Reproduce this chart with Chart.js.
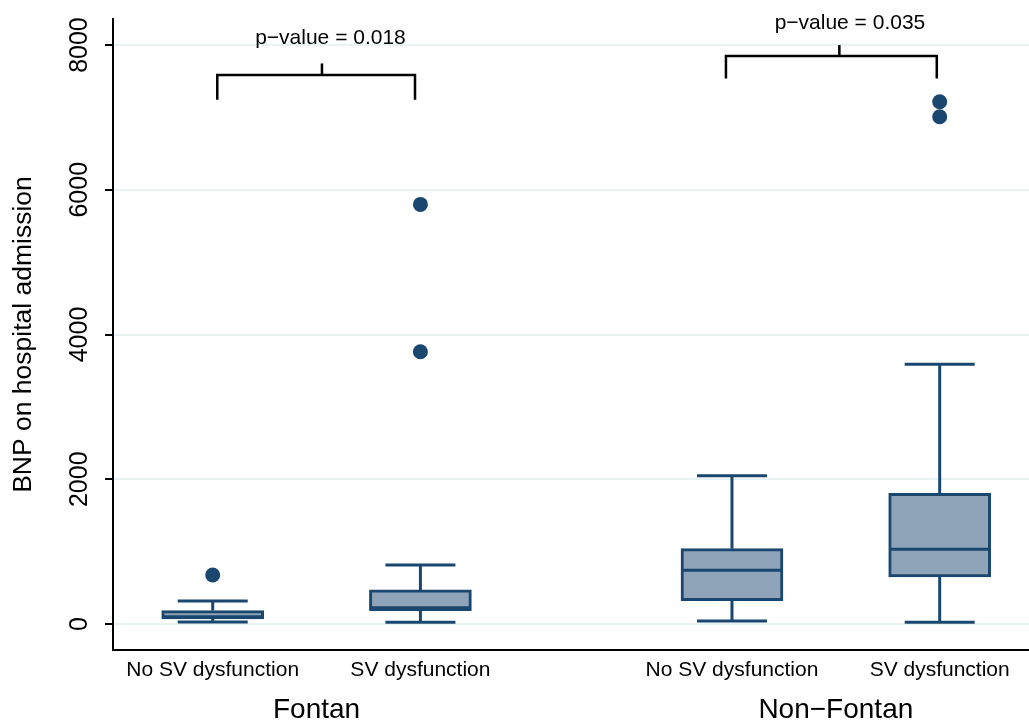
<!DOCTYPE html>
<html>
<head>
<meta charset="utf-8">
<script src="https://cdn.jsdelivr.net/npm/chart.js@4.4.1/dist/chart.umd.min.js"></script>
<style>
  html, body { margin: 0; padding: 0; background: #ffffff; }
  #wrap { position: relative; width: 1029px; height: 722px; }
</style>
</head>
<body>
<div id="wrap"><canvas id="c"></canvas></div>
<script>
// ---- data ----
const categories = ['No SV dysfunction', 'SV dysfunction', 'No SV dysfunction', 'SV dysfunction'];
const positions = [1, 2, 3.5, 4.5];
const groups = ['Fontan', 'Non\u2212Fontan'];
const groupPositions = [[1, 2], [3.5, 4.5]];
const whiskerLow = [28, 23, 41, 23];
const q1 = [70, 184, 322, 649];
const median = [100, 225, 742, 1032];
const q3 = [185, 470, 1040, 1806];
const whiskerHigh = [318, 815, 2049, 3588];
const outliers = [[677], [3762, 5798], [], [7009, 7216]];
const yTicks = [0, 2000, 4000, 6000, 8000];
const pLabels = ['p\u2212value = 0.018', 'p\u2212value = 0.035'];
// bracket geometry in data units
const bracketLeftX = [1.022, 3.471];
const bracketRightX = [1.974, 4.486];
const bracketTickX = [1.526, 4.017];
const bracketLegY = [7245, 7539];
const bracketBarY = [7585, 7847];
const bracketTopY = [7746, 8000];
const pLabelX = [1.567, 4.068];
const pLabelY = [8096, 8303];

// ---- styles ----
const NAVY = '#1a476f';
const FILL = '#8fa4b8';
const FONT = '"Liberation Sans", Arial, Helvetica, sans-serif';

const boxData = positions.map((p, i) => ({ x: p, y: [q1[i], q3[i]] }));
const outlierData = [];
positions.forEach((p, i) => outliers[i].forEach(v => outlierData.push({ x: p, y: v })));

const bracketSets = [];
for (let k = 0; k < 2; k++) {
  bracketSets.push({
    type: 'line',
    data: [
      { x: bracketLeftX[k], y: bracketLegY[k] },
      { x: bracketLeftX[k], y: bracketBarY[k] },
      { x: bracketRightX[k], y: bracketBarY[k] },
      { x: bracketRightX[k], y: bracketLegY[k] }
    ],
    borderColor: '#000', borderWidth: 2.5, pointRadius: 0, tension: 0, fill: false,
    borderCapStyle: 'butt', borderJoinStyle: 'miter'
  });
  bracketSets.push({
    type: 'line',
    data: [
      { x: bracketTickX[k], y: bracketBarY[k] },
      { x: bracketTickX[k], y: bracketTopY[k] }
    ],
    borderColor: '#000', borderWidth: 2.5, pointRadius: 0, tension: 0, fill: false,
    borderCapStyle: 'butt'
  });
}

const boxPlugin = {
  id: 'boxExtras',
  afterDatasetsDraw(chart) {
    const ctx = chart.ctx;
    const xs = chart.scales.x, ys = chart.scales.y;
    const capHalf = 35, boxHalf = 50;
    ctx.save();
    ctx.strokeStyle = NAVY;
    ctx.lineWidth = 3;
    ctx.lineCap = 'butt';
    positions.forEach((p, i) => {
      const cx = xs.getPixelForValue(p);
      const yLo = ys.getPixelForValue(whiskerLow[i]);
      const yQ1 = ys.getPixelForValue(q1[i]);
      const yMed = ys.getPixelForValue(median[i]);
      const yQ3 = ys.getPixelForValue(q3[i]);
      const yHi = ys.getPixelForValue(whiskerHigh[i]);
      ctx.beginPath();
      ctx.moveTo(cx, yQ3); ctx.lineTo(cx, yHi);
      ctx.moveTo(cx - capHalf, yHi); ctx.lineTo(cx + capHalf, yHi);
      ctx.moveTo(cx, yQ1); ctx.lineTo(cx, yLo);
      ctx.moveTo(cx - capHalf, yLo); ctx.lineTo(cx + capHalf, yLo);
      ctx.stroke();
      ctx.beginPath();
      ctx.moveTo(cx - boxHalf, yMed); ctx.lineTo(cx + boxHalf, yMed);
      ctx.stroke();
    });
    ctx.restore();
  },
  afterDraw(chart) {
    const ctx = chart.ctx;
    const xs = chart.scales.x, ys = chart.scales.y;
    ctx.save();
    ctx.fillStyle = '#000';
    // y tick labels (rotated)
    ctx.font = '25px ' + FONT;
    ctx.textAlign = 'center';
    ctx.textBaseline = 'middle';
    yTicks.forEach(v => {
      const y = ys.getPixelForValue(v);
      ctx.save();
      ctx.translate(80, y);
      ctx.rotate(-Math.PI / 2);
      ctx.fillText(String(v), 0, 0);
      ctx.restore();
    });
    // category labels
    ctx.font = '21px ' + FONT;
    categories.forEach((c, i) => {
      ctx.fillText(c, xs.getPixelForValue(positions[i]), 670);
    });
    // group labels
    ctx.font = '28px ' + FONT;
    groups.forEach((g, k) => {
      const cx = (xs.getPixelForValue(groupPositions[k][0]) + xs.getPixelForValue(groupPositions[k][1])) / 2;
      ctx.fillText(g, cx, 710);
    });
    // p-values
    ctx.font = '21px ' + FONT;
    pLabels.forEach((t, k) => {
      ctx.fillText(t, xs.getPixelForValue(pLabelX[k]), ys.getPixelForValue(pLabelY[k]));
    });
    ctx.restore();
  }
};

new Chart(document.getElementById('c'), {
  type: 'bar',
  data: {
    datasets: [
      {
        type: 'bar',
        data: boxData,
        backgroundColor: FILL,
        borderColor: NAVY,
        borderWidth: 3,
        borderSkipped: false,
        barThickness: 102,
        order: 2
      },
      {
        type: 'scatter',
        data: outlierData,
        backgroundColor: NAVY,
        borderColor: NAVY,
        pointRadius: 7.5,
        pointBorderWidth: 0,
        order: 1
      },
      ...bracketSets
    ]
  },
  options: {
    responsive: true,
    maintainAspectRatio: false,
    animation: false,
    devicePixelRatio: 1,
    layout: { autoPadding: false, padding: { top: 19, right: 0, left: 0, bottom: 0 } },
    plugins: { legend: { display: false }, tooltip: { enabled: false } },
    scales: {
      x: {
        type: 'linear',
        offset: false,
        min: 0.52,
        max: 4.93,
        grid: { display: false, drawTicks: false },
        border: { display: true, color: '#000', width: 2 },
        ticks: { display: false },
        afterFit(s) { s.height = 72; }
      },
      y: {
        type: 'linear',
        min: -360,
        max: 8360,
        afterBuildTicks(s) { s.ticks = yTicks.map(v => ({ value: v })); },
        grid: {
          color: '#eaf1f3',
          lineWidth: 2,
          tickLength: 8,
          tickColor: '#000',
          tickWidth: 2,
          drawTicks: true
        },
        border: { display: true, color: '#000', width: 2 },
        ticks: { display: false },
        title: {
          display: true,
          text: 'BNP on hospital admission',
          color: '#000',
          font: { size: 26.5, family: FONT },
          padding: { top: 8, bottom: 0 }
        },
        afterFit(s) { s.width = 113; }
      }
    }
  },
  plugins: [boxPlugin]
});
</script>
</body>
</html>
